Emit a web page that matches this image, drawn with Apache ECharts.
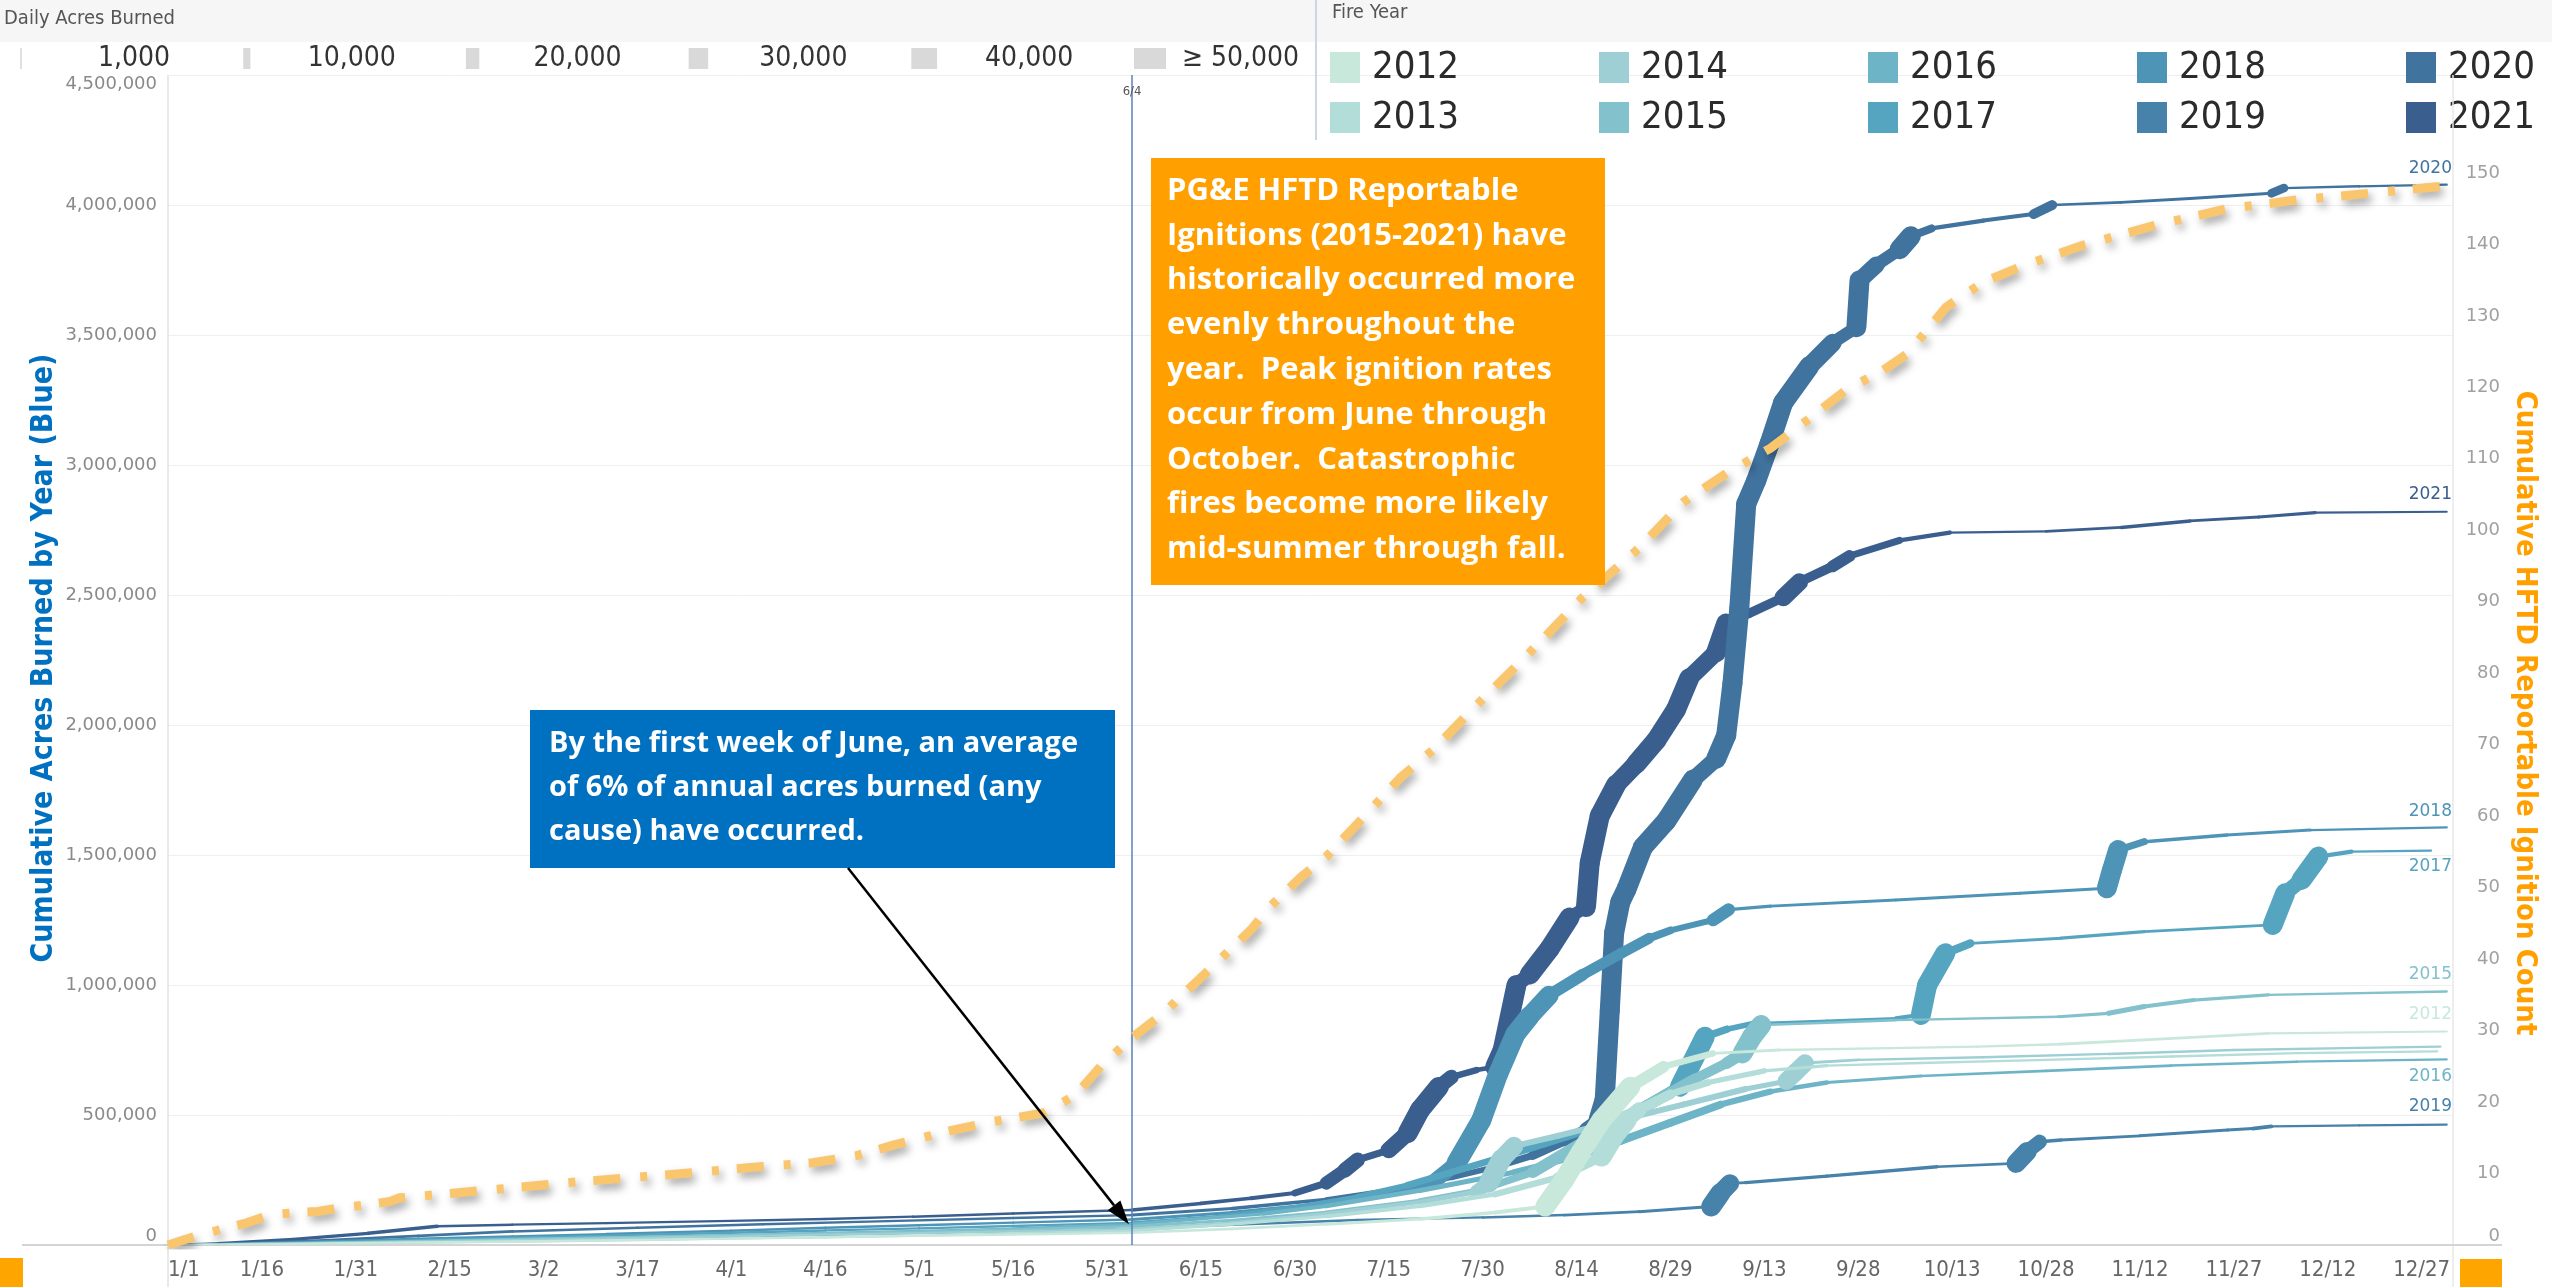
<!DOCTYPE html>
<html><head><meta charset="utf-8">
<script src="https://cdn.jsdelivr.net/npm/echarts@6/dist/echarts.min.js"></script>
<style>html,body{margin:0;padding:0;background:#fff;overflow:hidden}#c{width:2552px;height:1287px}</style>
</head><body><div id="c"></div>
<script>
// ---------- DATA ----------
const years = ['2012','2013','2014','2015','2016','2017','2018','2019','2020','2021'];
// [day of year (1/1 = 0), cumulative acres burned]
const acres2012 = [[0,0],[15,3000],[30,7000],[45,11000],[60,15000],[75,20000],[90,25000],[105,30000],[120,35000],[135,40000],[154,47000],[170,62000],[185,80000],[200,100000],[212,125000],[220,148000],[223,250000],[225.6,353000],[229,481000],[233.6,609000],[238.9,686000],[246.8,737000],[257.4,750000],[275,757000],[289,763000],[302,772000],[315.7,789000],[335.5,814000],[364,821000]];
const acres2013 = [[0,0],[15,2000],[30,6000],[45,10000],[60,14000],[75,19000],[90,24000],[105,29000],[120,36000],[135,44000],[154,55000],[170,80000],[185,110000],[200,150000],[212,195000],[222,260000],[229,340000],[231,420000],[233,480000],[235,520000],[240,580000],[246,625000],[255,670000],[265,690000],[280,700000],[300,712000],[320,725000],[340,738000],[362.5,745000]];
const acres2014 = [[0,0],[15,4000],[30,9000],[45,15000],[60,21000],[75,27000],[90,33000],[105,40000],[120,46000],[135,53000],[154,62000],[170,85000],[185,120000],[200,165000],[209,205000],[211,240000],[213,330000],[215,380000],[222,420000],[232,480000],[242,540000],[252,600000],[258.5,630000],[260,665000],[261.5,700000],[270,712000],[290,722000],[310,735000],[330,750000],[350,758000],[363,763000]];
const acres2015 = [[0,0],[15,5000],[30,11000],[45,18000],[60,25000],[75,31000],[90,38000],[105,45000],[120,52000],[135,60000],[154,72000],[170,95000],[185,125000],[200,170000],[210,215000],[218,280000],[225,380000],[232,480000],[238,560000],[244,640000],[249,700000],[251.5,737000],[253,800000],[254.5,846000],[265,855000],[276,865000],[302,878000],[310,891000],[315.7,917000],[323.6,942000],[335.5,962000],[364,975000]];
const acres2016 = [[0,0],[15,4000],[30,10000],[45,17000],[60,24000],[75,31000],[90,38000],[105,46000],[120,54000],[135,63000],[154,80000],[175,120000],[185,150000],[200,210000],[215,280000],[225,340000],[232,400000],[240,470000],[248,540000],[256,590000],[265,625000],[280,650000],[300,670000],[320,690000],[340,705000],[364,714000]];
const acres2017 = [[0,0],[14,5000],[28,12000],[42,20000],[56,28000],[70,36000],[90,47000],[105,56000],[120,64000],[135,73000],[154,85000],[168,110000],[180,145000],[190,185000],[198,230000],[205,280000],[212,330000],[220,390000],[228,450000],[236,532000],[241.5,609000],[245.5,801000],[249,830000],[253.4,853000],[265,862000],[276,872000],[280,885000],[281,1000000],[283.9,1122000],[287.9,1160000],[302.4,1180000],[315.7,1205000],[336.2,1231000],[338.2,1353000],[340.8,1404000],[343.5,1494000],[348.8,1513000],[361.5,1517000]];
const acres2018 = [[0,0],[12,6000],[25,14000],[40,24000],[55,33000],[70,42000],[90,55000],[105,66000],[120,76000],[135,86000],[154,98000],[170,125000],[185,160000],[196,200000],[202,240000],[205.8,314000],[209.8,481000],[212.5,660000],[215.2,810000],[217.5,880000],[220.6,960000],[226,1040000],[232,1120000],[236.6,1180000],[240,1210000],[246.8,1250000],[249.3,1290000],[256,1303000],[276,1327000],[295.8,1353000],[309.7,1372000],[310.5,1440000],[311.5,1519000],[315.7,1551000],[328.9,1577000],[342.2,1596000],[364,1606000]];
const acres2019 = [[0,0],[15,4000],[30,9000],[45,14000],[60,20000],[75,27000],[90,33000],[105,40000],[120,47000],[135,54000],[154,62000],[170,78000],[190,96000],[210,106000],[223,115000],[235,128000],[246.5,148000],[248,200000],[249.5,237000],[252,240000],[265,265000],[282.6,301000],[295.2,314000],[297,360000],[299,397000],[302.4,404000],[315,420000],[329,442000],[333,448000],[336,456000],[350,460000],[364,463000]];
const acres2020 = [[0,0],[10,5000],[25,18000],[40,35000],[55,52000],[75,66000],[95,80000],[115,92000],[135,104000],[154,115000],[170,140000],[185,175000],[196,215000],[205,260000],[212,300000],[218,345000],[223,400000],[226.5,445000],[228.5,480000],[229.5,560000],[230.3,900000],[231,1200000],[232,1320000],[233,1370000],[235.6,1530000],[239.3,1630000],[243.6,1790000],[247.3,1870000],[248.9,1960000],[249.9,2160000],[251,2450000],[252.1,2850000],[253.7,2940000],[255.8,3080000],[258,3240000],[262.2,3380000],[265.9,3470000],[269.7,3530000],[270.2,3710000],[272.9,3770000],[276.6,3830000],[278.4,3880000],[281.7,3910000],[290,3940000],[298,3965000],[301,4000000],[312,4010000],[323,4025000],[336,4045000],[338,4065000],[350,4072000],[364,4078000]];
const acres2021 = [[0,0],[8,6000],[20,22000],[32,45000],[43,72000],[55,78000],[70,84000],[90,93000],[105,100000],[119,109000],[135,121000],[154,135000],[165,160000],[173,180000],[180,200000],[185,238000],[188,288000],[190,327000],[195,365000],[198,430000],[200,520000],[203,608000],[205,646000],[209,673000],[212,685000],[213.2,750000],[215.4,1000000],[217.5,1040000],[220.7,1140000],[223.9,1260000],[226.5,1300000],[227.1,1470000],[228.7,1650000],[231.3,1770000],[234.5,1850000],[237.7,1940000],[240.9,2060000],[243,2180000],[247.3,2280000],[248.9,2390000],[252.6,2430000],[258,2490000],[260.6,2550000],[265.9,2610000],[268.6,2650000],[276.6,2710000],[284.6,2740000],[300,2745000],[312,2760000],[323,2785000],[334,2800000],[343,2817000],[364,2820000]];
// [day of year, cumulative HFTD reportable ignitions]
const ignitions = [[0,0],[5,1.4],[12.6,3.1],[16.3,4.2],[20,4.5],[24,4.7],[27.5,5.2],[31.7,5.6],[35.5,6.1],[37,6.6],[45,7.2],[55,8.0],[65,8.8],[75,9.5],[85,10.2],[95,11.0],[103,11.5],[110,12.5],[116,14.0],[125,16.0],[132,17.3],[140,18.5],[145,21],[149,25],[154,29],[159,32.4],[164,36.6],[168,39.9],[173,44.1],[176,47.3],[181,51.5],[185,54.3],[189,58],[192,60.8],[197,65.5],[202,69.2],[209,75.5],[217,82.4],[226,90.6],[235,97.5],[242,103.9],[249,108],[256,111.5],[262,115.5],[268,119.6],[274,122.4],[278,124.8],[284,131.2],[290,134.7],[296,136.9],[306,139.9],[318,142.8],[329,145],[340,146.2],[351,147.1],[364,148.2]];
const xTickDays = [0,15,30,45,60,75,90,105,120,135,150,165,180,195,210,225,240,255,270,285,300,315,330,345,360];
const xTickLabels = ['1/1','1/16','1/31','2/15','3/2','3/17','4/1','4/16','5/1','5/16','5/31','6/15','6/30','7/15','7/30','8/14','8/29','9/13','9/28','10/13','10/28','11/12','11/27','12/12','12/27'];
const markerDay = 154, markerLabel = '6/4';
const sizeLegendValues = [1000,10000,20000,30000,40000,50000];
const sizeLegendLabels = ['1,000','10,000','20,000','30,000','40,000','≥ 50,000'];
const orangeNote = ['PG&E HFTD Reportable','Ignitions (2015-2021) have','historically occurred more','evenly throughout the','year.  Peak ignition rates','occur from June through','October.  Catastrophic','fires become more likely','mid-summer through fall.'];
const blueNote = ['By the first week of June, an average','of 6% of annual acres burned (any','cause) have occurred.'];
const labelledYears = ['2020','2021','2018','2017','2015','2012','2016','2019'];

// ---------- STYLE ----------
const seriesData = {'2012':acres2012,'2013':acres2013,'2014':acres2014,'2015':acres2015,'2016':acres2016,'2017':acres2017,'2018':acres2018,'2019':acres2019,'2020':acres2020,'2021':acres2021};
const colors = {'2012':'#c8e8dc','2013':'#b3ddd8','2014':'#9dcfd4','2015':'#83c1cc','2016':'#6db4c6','2017':'#56a5c0','2018':'#4d94b6','2019':'#4682aa','2020':'#41739f','2021':'#3a5f8f'};
const labelDy = {'2020':-16,'2021':-17,'2018':-16,'2017':16,'2015':-17,'2012':-17,'2016':17,'2019':-18};
const COND = '"DejaVu Sans Condensed","Liberation Sans Narrow",sans-serif';
const WIDE = '"DejaVu Sans",Verdana,sans-serif';
const NOTE = '"Open Sans",Lato,sans-serif';

function ribbon(name, pts, color) {
  return {
    type: 'custom', name: name, coordinateSystem: 'cartesian2d', xAxisIndex: 0, yAxisIndex: 0,
    data: pts, encode: {x: 0, y: 1}, z: 2, clip: true, silent: true,
    renderItem: function (params, api) {
      const i = params.dataIndex;
      if (i === 0) return null;
      const p0 = pts[i - 1], p1 = pts[i];
      const a = api.coord(p0), b = api.coord(p1);
      const rate = (p1[1] - p0[1]) / Math.max(p1[0] - p0[0], 0.5);
      const w = 2 + 18 * Math.min(rate / 27000, 1);
      return {type: 'line', shape: {x1: a[0], y1: a[1], x2: b[0], y2: b[1]},
              style: {stroke: color, lineWidth: w, lineCap: 'round', fill: null}};
    }
  };
}

const series = [];
for (let k = years.length - 1; k >= 0; k--) {
  const y = years[k];
  series.push(ribbon(y, seriesData[y], colors[y]));
}
series.push({
  type: 'line', name: 'Ignitions', xAxisIndex: 0, yAxisIndex: 1, data: ignitions,
  showSymbol: false, symbol: 'none', z: 5, silent: true,
  lineStyle: {color: '#f9c66e', width: 9, type: [27, 20, 7, 18], cap: 'butt',
              shadowColor: 'rgba(0,0,0,0.36)', shadowBlur: 8, shadowOffsetX: 3, shadowOffsetY: 5},
  markLine: {silent: true, symbol: ['none', 'none'], label: {show: false},
             lineStyle: {color: '#5b80bb', width: 1.5, type: 'solid', shadowBlur: 0},
             data: [{xAxis: markerDay}]}
});

const chart = echarts.init(document.getElementById('c'), null, {renderer: 'canvas'});
chart.setOption({
  animation: false,
  backgroundColor: '#ffffff',
  grid: {left: 168, right: 99, top: 75, bottom: 42, containLabel: false},
  xAxis: {
    type: 'value', min: 0, max: 365, interval: 15,
    axisLine: {show: false}, axisTick: {show: false}, splitLine: {show: false},
    axisLabel: {fontFamily: COND, fontSize: 22, color: '#666666', margin: 14, alignMinLabel: 'left', showMaxLabel: false,
                formatter: v => { const i = xTickDays.indexOf(v); return i >= 0 ? xTickLabels[i] : ''; }}
  },
  yAxis: [
    {type: 'value', min: 0, max: 4500000, interval: 500000, position: 'left',
     axisLine: {show: false}, axisTick: {show: false},
     splitLine: {show: true, lineStyle: {color: '#efefef', width: 1}},
     axisLabel: {fontFamily: WIDE, fontSize: 18, color: '#8a8a8a', margin: 11,
                 verticalAlignMaxLabel: 'top', verticalAlignMinLabel: 'bottom',
                 formatter: v => v.toLocaleString('en-US')}},
    {type: 'value', min: 0, max: 163.7, interval: 10, position: 'right',
     axisLine: {show: false}, axisTick: {show: false}, splitLine: {show: false},
     axisLabel: {fontFamily: WIDE, fontSize: 18, color: '#a0a0a0', margin: 47, align: 'right',
                 verticalAlignMinLabel: 'bottom', showMaxLabel: false,
                 formatter: v => (Math.abs(v % 10) < 1e-9 && v <= 150 ? String(v) : '')}}
  ],
  series: series
});

// ---------- GRAPHIC (legends, frame, annotations) ----------
const g = [];
g.push({type: 'rect', shape: {x: 0, y: 0, width: 2552, height: 42}, style: {fill: '#f6f6f6'}, z: 0, silent: true});
g.push({type: 'line', shape: {x1: 1316, y1: 0, x2: 1316, y2: 140}, style: {stroke: '#c9d7e6', lineWidth: 2}, silent: true});
g.push({type: 'text', x: 4, y: 19, style: {text: 'Daily Acres Burned', font: '20px ' + COND, fill: '#555', textVerticalAlign: 'middle'}});
g.push({type: 'text', x: 1332, y: 13, style: {text: 'Fire Year', font: '20px ' + COND, fill: '#555', textVerticalAlign: 'middle'}});
sizeLegendValues.forEach((v, i) => {
  const cx = 21 + i * 225.8;
  const w = 1 + 0.62 * v / 1000;
  g.push({type: 'rect', shape: {x: cx - w / 2, y: 48, width: w, height: 21}, style: {fill: '#d9d9d9'}, silent: true});
  g.push({type: 'text', x: cx + 149, y: 59, style: {text: sizeLegendLabels[i], font: '28px ' + COND, fill: '#333', textAlign: 'right', textVerticalAlign: 'middle'}});
});
years.forEach((y, k) => {
  const col = Math.floor(k / 2), row = k % 2;
  const x = 1330 + col * 269, yy = 52 + row * 50;
  g.push({type: 'rect', shape: {x: x, y: yy, width: 30, height: 31}, style: {fill: colors[y]}, silent: true});
  g.push({type: 'text', x: x + 42, y: yy + 16, style: {text: y, font: '38px ' + COND, fill: '#2b2b2b', textVerticalAlign: 'middle'}});
});
// frame lines
g.push({type: 'line', shape: {x1: 168, y1: 75, x2: 168, y2: 1287}, style: {stroke: '#e2e2e2', lineWidth: 1.5}, silent: true});
g.push({type: 'line', shape: {x1: 2453, y1: 75, x2: 2453, y2: 1287}, style: {stroke: '#e8e8e8', lineWidth: 1.5}, silent: true});
g.push({type: 'line', shape: {x1: 22, y1: 1245, x2: 2502, y2: 1245}, style: {stroke: '#d4d4d4', lineWidth: 2}, silent: true});
g.push({type: 'rect', shape: {x: 0, y: 1258, width: 23, height: 29}, style: {fill: '#ffa500'}, silent: true});
g.push({type: 'rect', shape: {x: 2460, y: 1259, width: 42, height: 28}, style: {fill: '#ffa500'}, silent: true});
// axis titles
g.push({type: 'text', x: 44, y: 658, rotation: Math.PI / 2,
        style: {text: 'Cumulative Acres Burned by Year (Blue)', font: 'bold 30px ' + COND, fill: '#0070c0', textAlign: 'center', textVerticalAlign: 'middle'}});
g.push({type: 'text', x: 2525, y: 713, rotation: -Math.PI / 2,
        style: {text: 'Cumulative HFTD Reportable Ignition Count', font: 'bold 29px ' + COND, fill: '#ffa000', textAlign: 'center', textVerticalAlign: 'middle'}});
// marker label
const mx = chart.convertToPixel({xAxisIndex: 0}, markerDay);
g.push({type: 'text', x: mx, y: 92, z: 20, style: {text: markerLabel, font: '13px ' + COND, fill: '#555', textAlign: 'center', textVerticalAlign: 'middle'}});
// end labels
labelledYears.forEach(y => {
  const pts = seriesData[y];
  const last = pts[pts.length - 1];
  const py = chart.convertToPixel({yAxisIndex: 0}, last[1]);
  g.push({type: 'text', x: 2452, y: py + labelDy[y], z: 10,
          style: {text: y, font: '17px ' + WIDE, fill: colors[y], textAlign: 'right', textVerticalAlign: 'middle'}});
});
// orange note
g.push({type: 'rect', shape: {x: 1151, y: 158, width: 454, height: 427}, style: {fill: '#ffa000'}, z: 30, silent: true});
orangeNote.forEach((t, i) => g.push({type: 'text', x: 1167, y: 191 + i * 44.8, z: 31,
  style: {text: t, font: 'bold 31px ' + NOTE, fill: '#ffffff', textVerticalAlign: 'middle'}}));
// blue note
g.push({type: 'rect', shape: {x: 530, y: 710, width: 585, height: 158}, style: {fill: '#0070c0'}, z: 30, silent: true});
blueNote.forEach((t, i) => g.push({type: 'text', x: 549, y: 744 + i * 44, z: 31,
  style: {text: t, font: 'bold 29px ' + NOTE, fill: '#ffffff', textVerticalAlign: 'middle'}}));
// arrow
const tip = chart.convertToPixel({xAxisIndex: 0, yAxisIndex: 0}, [153.5, 80000]);
const sx = 848, sy = 868;
const ang = Math.atan2(tip[1] - sy, tip[0] - sx);
const hl = 24, hw = 8;
const bx = tip[0] - hl * Math.cos(ang), by = tip[1] - hl * Math.sin(ang);
g.push({type: 'line', shape: {x1: sx, y1: sy, x2: bx, y2: by}, style: {stroke: '#000', lineWidth: 2.5}, z: 32, silent: true});
g.push({type: 'polygon', shape: {points: [[tip[0], tip[1]], [bx - hw * Math.sin(ang), by + hw * Math.cos(ang)], [bx + hw * Math.sin(ang), by - hw * Math.cos(ang)]]},
        style: {fill: '#000'}, z: 32, silent: true});
chart.setOption({graphic: g});
</script>
</body></html>
